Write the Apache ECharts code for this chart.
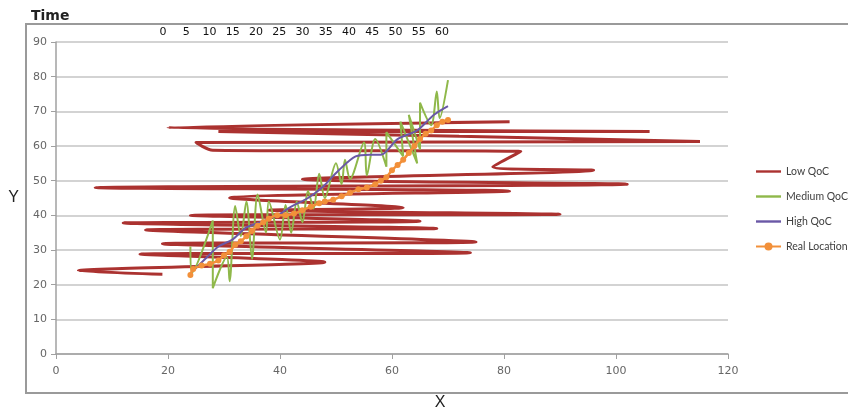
<!DOCTYPE html>
<html>
<head>
<meta charset="utf-8">
<script src="https://cdn.jsdelivr.net/npm/echarts@6/dist/echarts.min.js"></script>
<style>
  html, body { margin: 0; padding: 0; background: #fff; }
  #chart { width: 848px; height: 416px; }
</style>
</head>
<body>
<div id="chart"></div>
<script>
// series names as in the legend
const seriesNames = ["Low QoC", "Medium QoC", "High QoC", "Real Location"];

// time labels printed above the plot
const timeTicks = [0, 5, 10, 15, 20, 25, 30, 35, 40, 45, 50, 55, 60];

// Low QoC estimates (wide horizontal swings)
const lowX = [19, 4, 48, 15, 74, 19, 75, 16, 68, 12, 65, 24, 90, 38, 62, 31, 81, 7, 102, 44, 96, 78, 83, 28, 25, 115, 72, 29, 106, 20, 81];
const lowY = [23, 24, 26.5, 28.8, 29.2, 31.8, 32.3, 35.8, 36.2, 37.8, 38.3, 40, 40.3, 41.5, 42.2, 45, 47, 48, 49, 50.4, 53, 54, 58.4, 58.8, 61, 61.3, 62.8, 64.2, 64.2, 65.3, 67];

// Medium QoC estimates
const medX = [24, 24.3, 28, 28, 30.5, 31, 32, 33, 34, 35, 36, 37.5, 38, 40, 41, 42, 43, 44, 45, 46, 47, 48, 50, 51, 51.6, 52.5, 55, 55.5, 57, 59, 59, 62, 61.5, 64.5, 63, 65, 65, 67, 68, 68.5, 70];
const medY = [31, 23.5, 38.5, 19, 28, 21, 42.7, 34, 44, 27.5, 46, 35, 44, 33, 43, 35, 44, 38, 47, 42, 52, 45, 55, 49, 56, 50.5, 61, 51.5, 62, 54, 64, 57, 67, 55, 69, 59, 72.5, 66, 75.7, 68, 79];

// High QoC estimates
const highX = [24.5, 27, 29, 31.5, 34, 36.5, 39.5, 42, 45, 47.5, 50.5, 53.5, 56, 58, 61, 64.5, 67.5, 70];
const highY = [24, 28, 31, 33, 36.5, 38, 40, 42.5, 45, 48, 53, 57, 57.5, 57.5, 62, 64.5, 69, 71.5];

// Real location track
const realX = [24, 24.5, 26, 27.5, 29, 30, 31, 32, 33, 34, 35, 36, 37, 38, 39.5, 41, 42.5, 44, 45.5, 47, 48, 49.5, 51, 52.5, 54, 55.5, 57, 58, 59, 60, 61, 62, 63, 64, 65, 66, 67, 68, 69, 70];
const realY = [22.8, 24.5, 25.5, 26, 27, 28.5, 29.5, 31.5, 32.5, 34, 35.5, 37, 38, 39, 40, 40, 40.5, 41.5, 42.5, 43.5, 44, 44.5, 45.5, 46.5, 47.5, 48, 49, 50, 51, 53, 54.5, 56, 58, 60, 62, 63.5, 64.5, 66, 67, 67.5];

const colors = ["#ab3230", "#8fb84a", "#6a58a6", "#f2903a"];
const lineIcon = "path://M0,0H25V2.4H0Z";

const zip = (xs, ys) => xs.map((x, i) => [x, ys[i]]);

const chart = echarts.init(document.getElementById("chart"));
chart.setOption({
  animation: false,
  title: {
    text: "Time",
    left: 26,
    top: 4,
    textStyle: { fontFamily: "DejaVu Sans", fontWeight: "bold", fontSize: 14, color: "#222" },
  },
  graphic: [
    {
      type: "rect",
      shape: { x: 26, y: 24, width: 840, height: 369 },
      style: { fill: "none", stroke: "#9a9a9a", lineWidth: 2 },
      silent: true,
    },
  ],
  legend: {
    orient: "vertical",
    left: 750,
    top: 161,
    itemWidth: 25,
    itemHeight: 10,
    itemGap: 14,
    textStyle: { fontFamily: "Lato", fontSize: 10.5, color: "#404040" },
    data: [
      { name: seriesNames[0], icon: lineIcon },
      { name: seriesNames[1], icon: lineIcon },
      { name: seriesNames[2], icon: lineIcon },
      { name: seriesNames[3] },
    ],
  },
  grid: { left: 56, right: 120, top: 42, bottom: 60 },
  xAxis: [
    {
      type: "value",
      min: 0,
      max: 120,
      interval: 20,
      position: "bottom",
      name: "X",
      nameLocation: "middle",
      nameGap: 41,
      nameTextStyle: { fontFamily: "Liberation Sans", fontSize: 16, color: "#222", padding: [0, 0, 0, 96] },
      axisLine: { lineStyle: { color: "#a0a0a0", width: 1.5 } },
      axisTick: { show: true, length: 5, lineStyle: { color: "#a0a0a0" } },
      axisLabel: { fontFamily: "DejaVu Sans", fontSize: 11, color: "#666", margin: 12 },
      splitLine: { show: false },
    },
    {
      type: "value",
      min: -23,
      max: 121.5,
      position: "top",
      axisLine: { show: false },
      axisTick: { show: false },
      splitLine: { show: false },
      axisLabel: {
        customValues: timeTicks,
        fontFamily: "DejaVu Sans",
        fontSize: 11,
        color: "#111",
        margin: 4,
      },
    },
  ],
  yAxis: {
    type: "value",
    min: 0,
    max: 90,
    interval: 10,
    name: "Y",
    nameLocation: "middle",
    nameRotate: 0,
    nameGap: 37,
    nameTextStyle: { fontFamily: "Liberation Sans", fontSize: 16, color: "#222", padding: [28, 0, 0, 0] },
    axisLine: { show: true, lineStyle: { color: "#a0a0a0", width: 1.5 } },
    axisTick: { show: true, length: 5, lineStyle: { color: "#a0a0a0" } },
    axisLabel: { fontFamily: "DejaVu Sans", fontSize: 11, color: "#666", margin: 9 },
    splitLine: { lineStyle: { color: "#c4c4c4", width: 1.5 } },
  },
  series: [
    {
      name: seriesNames[0],
      type: "line",
      data: zip(lowX, lowY),
      smooth: 0.3,
      symbol: "none",
      lineStyle: { color: colors[0], width: 3 },
      itemStyle: { color: colors[0] },
    },
    {
      name: seriesNames[1],
      type: "line",
      data: zip(medX, medY),
      smooth: 0.3,
      symbol: "none",
      lineStyle: { color: colors[1], width: 2 },
      itemStyle: { color: colors[1] },
    },
    {
      name: seriesNames[2],
      type: "line",
      data: zip(highX, highY),
      smooth: 0.3,
      symbol: "none",
      lineStyle: { color: colors[2], width: 2 },
      itemStyle: { color: colors[2] },
    },
    {
      name: seriesNames[3],
      type: "line",
      data: zip(realX, realY),
      smooth: 0.3,
      symbol: "circle",
      symbolSize: 6,
      lineStyle: { color: colors[3], width: 2.5 },
      itemStyle: { color: colors[3] },
    },
  ],
});
</script>
</body>
</html>
